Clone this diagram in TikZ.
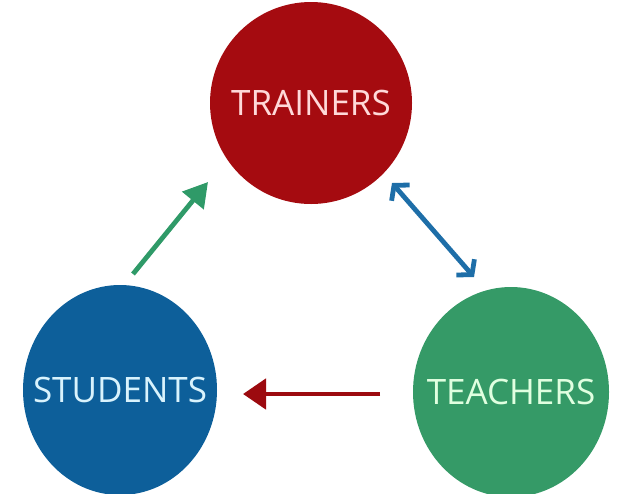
\documentclass[tikz,border=0pt]{standalone}
\usepackage{fontspec}
\setmainfont{Open Sans}
\usetikzlibrary{arrows.meta,shapes.geometric}
\definecolor{cred}{HTML}{A50B10}
\definecolor{cblue}{HTML}{0D5F9A}
\definecolor{cgreen}{HTML}{359A67}
\definecolor{agreen}{HTML}{2F9A68}
\definecolor{ablue}{HTML}{1E6EA8}
\definecolor{ared}{HTML}{9C0A0F}
\newcommand{\zlabel}[1]{\makebox[0pt]{#1}}
\tikzset{
  bubble/.style={ellipse, inner sep=0pt, font=\fontsize{35}{38}\selectfont},
  link/.style={line width=4.8pt},
}
\begin{document}
\begin{tikzpicture}[x=1pt,y=-1pt]
\useasboundingbox (0,0) rectangle (617,493);
\node[bubble, fill=cred, minimum width=202pt, minimum height=202pt, text={red!15!white}] (trainers) at (311,103) {\zlabel{TRAINERS}};
\node[bubble, fill=cblue, minimum width=194pt, minimum height=210pt, text={cyan!15!white}] (students) at (120,390) {\zlabel{STUDENTS}};
\node[bubble, fill=cgreen, minimum width=196pt, minimum height=210pt, text={green!12!white}] (teachers) at (511,392) {\zlabel{TEACHERS}};
\coordinate (g1) at (133,274);
\coordinate (g2) at (208,182);
\coordinate (b1) at (392,183);
\coordinate (b2) at (474,277);
\coordinate (r1) at (380,394);
\coordinate (r2) at (243,394);
\draw[link, agreen, -{Triangle[length=24pt,width=27pt]}] (g1) -- (g2);
\draw[link, ablue, {Straight Barb[length=10pt,width=24pt,line width=4.8pt]}-{Straight Barb[length=10pt,width=24pt,line width=4.8pt]}] (b1) -- (b2);
\draw[link, ared, -{Triangle[length=23pt,width=30pt]}] (r1) -- (r2);
\end{tikzpicture}
\end{document}
